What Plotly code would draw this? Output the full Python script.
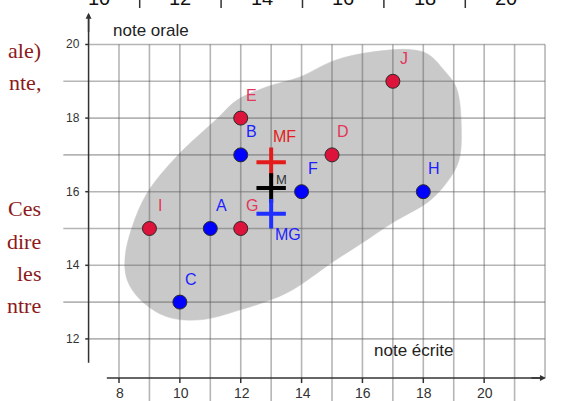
import plotly.graph_objects as go

# ---------------- data ----------------
red_labels = ["E", "D", "J", "I", "G"]
red_x = [12, 15, 17, 9, 12]
red_y = [18, 17, 19, 15, 15]

blue_labels = ["B", "F", "H", "A", "C"]
blue_x = [12, 14, 18, 11, 10]
blue_y = [17, 16, 16, 15, 13]

mean_labels = ["MF", "M", "MG"]
mean_x = [13, 13, 13]
mean_y = [16.8, 16.1, 15.4]

# outline of the grey zone
zone_x = [13.95, 15.06, 16.18, 17.60, 18.17, 18.69, 19.09, 19.25, 19.16, 18.69, 18.17,
          17.04, 16.18, 15.06, 13.54, 11.99, 10.67, 9.58, 8.69, 8.26, 8.20, 8.43, 8.92,
          9.91, 11.22, 11.88, 12.86]
zone_y = [19.12, 19.56, 19.78, 19.86, 19.73, 19.29, 18.82, 17.73, 16.82, 16.16, 15.73,
          15.18, 14.71, 14.11, 13.26, 12.79, 12.52, 12.60, 13.07, 13.62, 14.23, 15.04, 15.96,
          16.97, 17.98, 18.49, 18.85]

x_ticks = [8, 10, 12, 14, 16, 18, 20]
y_ticks = [12, 14, 16, 18, 20]
grid_x = list(range(8, 23))
grid_y = list(range(12, 21))

x_title = "note écrite"
y_title = "note orale"

# cropped pieces of the surrounding page
top_values = [10, 12, 14, 16, 18, 20]
top_tick_marks = [11, 13, 15, 17, 19]
side_text = ["ale)", "nte,", "Ces", "dire", "les", "ntre"]

# ---------------- layout constants ----------------
W, H = 562, 401
X_RANGE = [4.089, 22.558]
Y_RANGE = [10.3125, 21.209]
TOP_RANGE = [7.568, 21.376]
AX_X0, AX_Y0 = 7, 10.94          # where the axes lines sit
GRID_TOP = 20
GRID_RIGHT = 22


def py(p):  # pixel row -> paper y
    return 1 - p / H


def px(p):  # pixel column -> paper x
    return p / W


fig = go.Figure()

# grey zone
fig.add_trace(go.Scatter(
    x=zone_x + [zone_x[0]], y=zone_y + [zone_y[0]], mode="lines",
    fill="toself", fillcolor="#c9c9c9",
    line=dict(color="#c9c9c9", width=0.5, shape="spline", smoothing=1.0),
    hoverinfo="skip"))

# grid
gx, gy = [], []
for v in grid_x:
    bottom = AX_Y0 if (v in x_ticks or v == GRID_RIGHT) else Y_RANGE[0]
    gx += [v, v, None]
    gy += [GRID_TOP, bottom, None]
for v in grid_y:
    left = AX_X0 if v in y_ticks else 6.17
    gx += [left, GRID_RIGHT, None]
    gy += [v, v, None]
fig.add_trace(go.Scatter(x=gx, y=gy, mode="lines",
                         line=dict(color="rgba(90,90,90,0.45)", width=1.6),
                         hoverinfo="skip"))

# axis lines + ticks
ax_col = "#333333"
tx, ty = [], []
tx += [AX_X0, AX_X0, None]
ty += [11.35, 20.8, None]
tx += [7.6, 21.95, None]
ty += [AX_Y0, AX_Y0, None]
for v in x_ticks:
    tx += [v, v, None]
    ty += [AX_Y0, AX_Y0 - 0.14, None]
for v in y_ticks:
    tx += [AX_X0 - 0.11, AX_X0, None]
    ty += [v, v, None]
fig.add_trace(go.Scatter(x=tx, y=ty, mode="lines",
                         line=dict(color=ax_col, width=1.5), hoverinfo="skip"))

# points
fig.add_trace(go.Scatter(x=red_x, y=red_y, mode="markers",
                         marker=dict(size=14, color="#dc143c",
                                     line=dict(color="#2a2a2a", width=1))))
fig.add_trace(go.Scatter(x=blue_x, y=blue_y, mode="markers",
                         marker=dict(size=14, color="#0000ff",
                                     line=dict(color="#2a2a2a", width=1))))
fig.add_trace(go.Scatter(x=mean_x, y=mean_y, mode="markers",
                         marker=dict(symbol="cross-thin", size=21,
                                     line=dict(color=["#e31b1b", "#000000", "#1f2fff"], width=4))))

# invisible trace on the cropped top axis
fig.add_trace(go.Scatter(x=top_values, y=[None] * len(top_values), xaxis="x2",
                         mode="markers", hoverinfo="skip"))

ann = []
lab_font = "Liberation Sans, Arial, sans-serif"
for t, x, y in zip(red_labels, red_x, red_y):
    ann.append(dict(x=x, y=y, text=t, showarrow=False, xshift=11, yshift=23,
                    font=dict(family=lab_font, size=16, color="#e4355a")))
for t, x, y in zip(blue_labels, blue_x, blue_y):
    ann.append(dict(x=x, y=y, text=t, showarrow=False, xshift=11, yshift=23,
                    font=dict(family=lab_font, size=16, color="#1e1eff")))
mean_style = {
    "MF": dict(xshift=13, yshift=26, size=16, color="#e32020"),
    "M": dict(xshift=10, yshift=9, size=13, color="#333333"),
    "MG": dict(xshift=17, yshift=-21, size=16, color="#1e1eff"),
}
for t, x, y in zip(mean_labels, mean_x, mean_y):
    s = mean_style[t]
    ann.append(dict(x=x, y=y, text=t, showarrow=False, xshift=s["xshift"], yshift=s["yshift"],
                    font=dict(family=lab_font, size=s["size"], color=s["color"])))

# tick labels
for v in x_ticks:
    ann.append(dict(x=v, y=AX_Y0, text=str(v), showarrow=False, yshift=-15, xshift=1,
                    font=dict(family=lab_font, size=14, color="#333333")))
for v in y_ticks:
    ann.append(dict(x=AX_X0, y=v, text=str(v), showarrow=False, xanchor="right", xshift=-7,
                    font=dict(family="Liberation Sans Narrow, Liberation Sans, Arial", size=12,
                              color="#333333")))

# axis titles
ann.append(dict(x=px(151), y=py(31), xref="paper", yref="paper", text=y_title, showarrow=False,
                xanchor="center", yanchor="middle",
                font=dict(family=lab_font, size=17, color="#222222")))
ann.append(dict(x=px(413), y=py(350), xref="paper", yref="paper", text=x_title, showarrow=False,
                xanchor="center", yanchor="middle",
                font=dict(family=lab_font, size=17, color="#222222")))

# arrow heads
ann.append(dict(x=AX_X0, y=20.86, ax=AX_X0, ay=20.3, xref="x", yref="y", axref="x", ayref="y",
                text="", showarrow=True, arrowhead=2, arrowsize=0.8, arrowwidth=1.5,
                arrowcolor=ax_col))
ann.append(dict(x=22.03, y=AX_Y0, ax=21.5, ay=AX_Y0, xref="x", yref="y", axref="x", ayref="y",
                text="", showarrow=True, arrowhead=2, arrowsize=0.8, arrowwidth=1.5,
                arrowcolor=ax_col))

# cropped labels of the chart above
for v in top_values:
    ann.append(dict(x=v, y=py(-2), xref="x2", yref="paper", text=str(v), showarrow=False,
                    xanchor="center", yanchor="middle",
                    font=dict(family=lab_font, size=20, color="#111111")))

# cropped text on the left
side_rows = [50, 82, 209, 241, 273, 305]
for t, r in zip(side_text, side_rows):
    ann.append(dict(x=px(43), y=py(r), xref="paper", yref="paper", text=t, showarrow=False,
                    xanchor="right", yanchor="middle",
                    font=dict(family="Liberation Serif, Times New Roman, serif", size=22,
                              color="#8c1a1a")))

shapes = []
for v in top_tick_marks:
    shapes.append(dict(type="line", xref="x2", yref="paper", x0=v, x1=v, y0=py(0), y1=py(8),
                       line=dict(color="#333333", width=1.5)))

fig.update_layout(
    width=W, height=H, autosize=False,
    margin=dict(l=0, r=0, t=0, b=0, pad=0),
    paper_bgcolor="white", plot_bgcolor="white",
    showlegend=False,
    xaxis=dict(range=X_RANGE, visible=False, fixedrange=True),
    yaxis=dict(range=Y_RANGE, visible=False, fixedrange=True),
    xaxis2=dict(range=TOP_RANGE, visible=False, overlaying="x", anchor="y"),
    annotations=ann,
    shapes=shapes,
)

fig.write_html(
    "out.html",
    config={"displayModeBar": False},
    post_script="document.body.style.margin='0';document.body.style.overflow='hidden';",
)
